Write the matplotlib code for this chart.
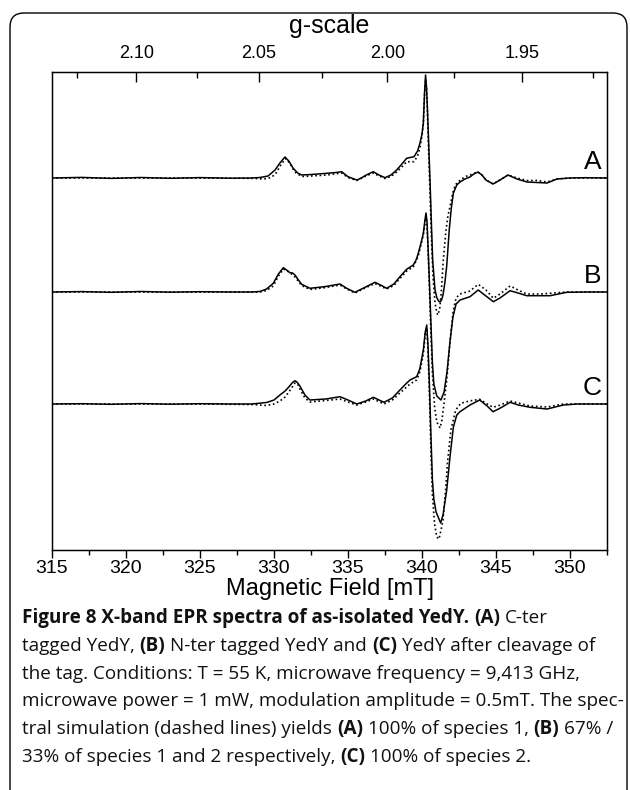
import matplotlib
matplotlib.use("Agg")
import matplotlib.pyplot as plt
import numpy as np
from matplotlib.patches import FancyBboxPatch
from matplotlib.ticker import MultipleLocator
from matplotlib.transforms import IdentityTransform, blended_transform_factory

plt.rcParams['font.family'] = ['Liberation Sans', 'DejaVu Sans']

# EPR spectra: (field [mT], intensity [a.u.]), baseline = 0
A_exp = np.array([
    [315.0, 0], [317.0, 0.6], [319.0, -0.4], [321.0, 0.5], [323.0, -0.3], [325.0, 0.4],
    [327.0, -0.2], [328.5, 0], [329.05, 0.5], [329.6, 2], [330.07, 8], [330.4, 15],
    [330.74, 21], [331.0, 17], [331.3, 9.7], [331.6, 5], [331.87, 3], [332.5, 3.5],
    [333.56, 4.7], [334.2, 5.5], [334.57, 6.3], [335.0, 1.3], [335.6, -2], [335.9, 0],
    [336.15, 2.3], [336.7, 6.3], [337.1, 3], [337.5, 0.3], [337.9, 3], [338.29, 8],
    [338.7, 15], [338.96, 19.7], [339.2, 20.5], [339.46, 21.3], [339.7, 27], [339.86, 34.7],
    [340.0, 44], [340.09, 54.7], [340.17, 85], [340.24, 103], [340.31, 90], [340.37, 68],
    [340.45, 35], [340.54, -2], [340.65, -52], [340.72, -82], [340.88, -112], [341.01, -120],
    [341.12, -123], [341.22, -124], [341.32, -122], [341.42, -117], [341.55, -104],
    [341.67, -88], [341.84, -52], [341.98, -30], [342.12, -15], [342.35, -7], [342.57, -4],
    [342.9, -1], [343.24, 1], [343.5, 4], [343.78, 6], [344.05, 3], [344.32, -2],
    [344.8, -6], [345.27, -2], [345.81, 3], [346.42, -1], [347.09, -4], [347.77, -4.5],
    [348.45, -5], [349.12, -1], [350.0, 0], [351.0, 0.3], [352.5, 0]])

A_sim = np.array([
    [315.0, 0], [320.0, 0], [325.0, 0], [328.5, -0.3], [329.3, -1], [329.8, 0.5],
    [330.1, 4], [330.5, 14], [330.8, 19.5], [331.1, 14], [331.4, 6], [331.87, 1.5],
    [332.5, 2], [333.56, 3], [334.57, 5], [335.0, 0.5], [335.6, -2.5], [336.15, 1.5],
    [336.7, 5], [337.1, 2], [337.5, -0.5], [337.9, 1.5], [338.29, 6], [338.7, 12],
    [338.96, 16.3], [339.46, 16.3], [339.7, 22], [339.86, 30], [340.0, 42], [340.09, 55],
    [340.17, 82], [340.24, 99], [340.31, 88], [340.37, 64], [340.45, 25], [340.54, -15],
    [340.65, -65], [340.75, -100], [340.88, -125], [341.0, -135], [341.08, -137],
    [341.2, -130], [341.3, -115], [341.44, -82], [341.6, -55], [341.75, -38],
    [341.89, -28.7], [342.1, -14], [342.25, -7], [342.45, -3.7], [342.9, 1.3],
    [343.24, 3], [343.5, 4.5], [343.78, 6], [344.05, 3], [344.32, -2], [344.8, -6],
    [345.27, -2], [345.81, 3], [346.42, 0], [347.09, -2.5], [347.77, -2.5], [348.45, -4],
    [349.12, -1], [350.0, 0], [352.5, 0]])

B_exp = np.array([
    [315.0, 0], [317.0, 0.4], [319.0, -0.3], [321.0, 0.5], [323.0, -0.2], [325.0, 0.3],
    [327.0, 0], [328.5, 0], [329.05, 0.5], [329.5, 3], [329.95, 8.7], [330.3, 18],
    [330.63, 24.3], [330.85, 22], [331.08, 19.3], [331.25, 19], [331.42, 17], [331.65, 12],
    [331.87, 7.7], [332.43, 3.7], [333.5, 5.5], [334.46, 8], [334.91, 3.7], [335.47, -0.3],
    [336.15, 4.7], [336.82, 9.7], [337.2, 7], [337.61, 3.7], [338.1, 8], [338.51, 15.3],
    [338.96, 22.7], [339.41, 27], [339.6, 32], [339.75, 38.7], [339.95, 50], [340.09, 58.7],
    [340.2, 72], [340.27, 79], [340.34, 70], [340.41, 45], [340.5, 10], [340.6, -30],
    [340.7, -70], [340.8, -92], [341.0, -104], [341.28, -108], [341.49, -100],
    [341.69, -80], [341.89, -50], [342.09, -25], [342.3, -12], [342.57, -8],
    [343.24, -4.7], [343.8, 2], [344.32, -4], [344.82, -9.7], [345.27, -6], [345.95, 1.3],
    [346.49, -1], [347.07, -3.7], [348.65, -3.7], [349.78, -0.3], [351.0, 0], [352.5, 0]])

B_sim = np.array([
    [315.0, 0], [320.0, 0], [325.0, 0], [328.5, 0], [329.05, 0], [329.5, 1.5],
    [329.95, 6], [330.3, 16], [330.63, 23], [330.9, 21], [331.15, 18.5], [331.42, 15],
    [331.87, 6.5], [332.43, 2.5], [333.5, 4.5], [334.46, 7], [334.91, 3], [335.47, -1],
    [336.15, 4], [336.82, 8.5], [337.61, 3], [338.1, 6.5], [338.51, 13.5], [338.96, 21],
    [339.41, 25], [339.75, 36], [340.09, 57], [340.27, 76], [340.34, 66], [340.41, 42],
    [340.5, 5], [340.6, -40], [340.7, -80], [340.85, -115], [341.0, -130], [341.22, -136],
    [341.35, -128], [341.5, -110], [341.69, -85], [341.89, -50], [342.1, -20],
    [342.3, -6], [342.57, -2], [343.24, 1], [343.8, 7.7], [344.32, 2], [344.82, -6.3],
    [345.27, -2], [345.95, 6], [346.49, 2], [347.07, -2], [348.0, -2], [349.78, 0],
    [352.5, 0]])

C_exp = np.array([
    [315.0, 0], [317.0, 0.3], [319.0, -0.3], [321.0, 0.4], [323.0, -0.2], [325.0, 0.3],
    [327.0, 0], [328.5, 0], [329.5, 1.5], [330.0, 4], [330.4, 9], [330.75, 13],
    [331.0, 17], [331.25, 21.5], [331.42, 23.3], [331.55, 22], [331.75, 18], [332.09, 9],
    [332.43, 4], [333.5, 5], [334.46, 7.3], [335.0, 4], [335.59, 0], [336.2, 3],
    [336.71, 6.7], [337.1, 4], [337.43, 1.7], [338.0, 6], [338.51, 14], [338.9, 20],
    [339.19, 24], [339.64, 27.3], [339.85, 35], [340.09, 54], [340.22, 72], [340.32, 79],
    [340.4, 60], [340.5, 20], [340.6, -30], [340.7, -75], [340.8, -95], [340.95, -108],
    [341.26, -119], [341.42, -111], [341.67, -86], [341.89, -53], [342.12, -23],
    [342.35, -11], [342.57, -7.7], [343.24, -1], [343.9, 4], [344.4, -2], [344.8, -7.7],
    [345.3, -4], [345.95, 1.7], [346.5, -1], [347.3, -3.3], [348.45, -5], [349.55, -1],
    [350.5, 0], [352.5, 0]])

C_sim = np.array([
    [315.0, 0], [320.0, 0], [325.0, 0], [328.5, -0.5], [329.5, -1.5], [330.0, 0],
    [330.4, 3], [330.75, 7], [331.0, 12], [331.42, 21], [331.6, 20], [331.75, 15],
    [332.09, 6], [332.43, 2], [333.5, 3.5], [334.46, 5], [335.0, 2], [335.59, -1],
    [336.2, 2], [336.71, 5], [337.43, 0], [338.0, 4], [338.51, 11], [339.19, 20],
    [339.64, 24], [339.85, 32], [340.09, 50], [340.22, 70], [340.32, 76], [340.4, 55],
    [340.5, 10], [340.6, -45], [340.7, -90], [340.85, -120], [341.0, -133],
    [341.15, -135], [341.3, -125], [341.42, -116], [341.6, -85], [341.72, -59],
    [341.95, -26], [342.28, -6], [342.62, 0.7], [343.2, 3], [343.9, 4.7], [344.4, 0],
    [344.8, -3.3], [345.3, -1], [345.95, 3], [346.5, 1], [347.3, -2], [348.45, -3],
    [349.55, 0], [352.5, 0]])

labels = ['A', 'B', 'C']
offsets = [0, -114, -226]

g_major = [2.10, 2.05, 2.00, 1.95]
g_minor = [2.125, 2.075, 2.025, 1.975, 1.925]


def g_to_field(g):
    # field scale used by the top axis of the original figure
    return 712.5 / g - 18.6


W, H = 630, 790
fig = plt.figure(figsize=(W / 100, H / 100), dpi=100)

# rounded frame around the figure panel
frame = FancyBboxPatch((10, -30), 617, 807, boxstyle='round,pad=0,rounding_size=14',
                       transform=IdentityTransform(), fill=False, ec='black', lw=1.0)
fig.patches.append(frame)

ax = fig.add_axes([52 / W, 1 - 550 / H, (607 - 52) / W, (550 - 72) / H])

curves = [(A_exp, A_sim), (B_exp, B_sim), (C_exp, C_sim)]
for (exp, sim), off, lab in zip(curves, offsets, labels):
    ax.plot(exp[:, 0], exp[:, 1] + off, color='black', lw=1.1)
    ax.plot(sim[:, 0], sim[:, 1] + off, color='black', lw=1.2, ls=(0, (1, 1.6)))
    ax.text(0.99, off + 4, lab, transform=blended_transform_factory(ax.transAxes, ax.transData),
            ha='right', va='bottom', fontsize=19)

ax.set_xlim(315, 352.5)
ax.set_ylim(-372, 106)
ax.set_yticks([])
ax.xaxis.set_major_locator(MultipleLocator(5))
ax.xaxis.set_minor_locator(MultipleLocator(2.5))
ax.tick_params(axis='x', which='major', direction='out', length=6, width=1, labelsize=14, pad=1)
ax.tick_params(axis='x', which='minor', direction='out', length=3.5, width=1)
ax.set_xlabel('Magnetic Field [mT]', fontsize=17, labelpad=1)
for s in ax.spines.values():
    s.set_linewidth(1.0)

ax2 = ax.twiny()
ax2.set_xlim(ax.get_xlim())
ax2.set_xticks([g_to_field(g) for g in g_major])
ax2.set_xticklabels(['%.2f' % g for g in g_major])
ax2.set_xticks([g_to_field(g) for g in g_minor], minor=True)
ax2.tick_params(axis='x', which='major', direction='in', length=7, width=1, labelsize=13, pad=7)
ax2.tick_params(axis='x', which='minor', direction='in', length=4, width=1)
ax2.set_xlabel('g-scale', fontsize=18, labelpad=9)

# caption with bold runs
caption = [
    [("Figure 8 X-band EPR spectra of as-isolated YedY.", True), (" ", False),
     ("(A)", True), (" C-ter", False)],
    [("tagged YedY, ", False), ("(B)", True), (" N-ter tagged YedY and ", False),
     ("(C)", True), (" YedY after cleavage of", False)],
    [("the tag. Conditions: T = 55 K, microwave frequency = 9,413 GHz,", False)],
    [("microwave power = 1 mW, modulation amplitude = 0.5mT. The spec-", False)],
    [("tral simulation (dashed lines) yields ", False), ("(A)", True),
     (" 100% of species 1, ", False), ("(B)", True), (" 67% /", False)],
    [("33% of species 1 and 2 respectively, ", False), ("(C)", True),
     (" 100% of species 2.", False)],
]
cap_font = ['Open Sans', 'DejaVu Sans']
renderer = fig.canvas.get_renderer()


def text_width(s, size, bold):
    t = fig.text(0, 0, s, fontsize=size, fontweight='bold' if bold else 'normal', family=cap_font)
    w = t.get_window_extent(renderer).width
    t.remove()
    return w


def space_width(size, bold):
    return text_width('n n', size, bold) - text_width('nn', size, bold)


def line_width(runs, size):
    total = 0
    for s, bold in runs:
        core = s.strip()
        n_sp = len(s) - len(s.lstrip()) + len(s) - len(s.rstrip()) if core else len(s)
        total += n_sp * space_width(size, bold)
        if core:
            total += text_width(core, size, bold)
    return total


cap_size = 12 * 571 / line_width(caption[1], 12)

y_base = 623
for runs in caption:
    x = 22
    for s, bold in runs:
        core = s.strip()
        sw = space_width(cap_size, bold)
        if not core:
            x += len(s) * sw
            continue
        x += (len(s) - len(s.lstrip())) * sw
        t = fig.text(x / W, 1 - y_base / H, core, fontsize=cap_size,
                     fontweight='bold' if bold else 'normal', family=cap_font,
                     va='baseline', ha='left', color='#111111')
        x += t.get_window_extent(renderer).width
        x += (len(s) - len(s.rstrip())) * sw
    y_base += 27.8

fig.savefig('out.png', dpi=100)
